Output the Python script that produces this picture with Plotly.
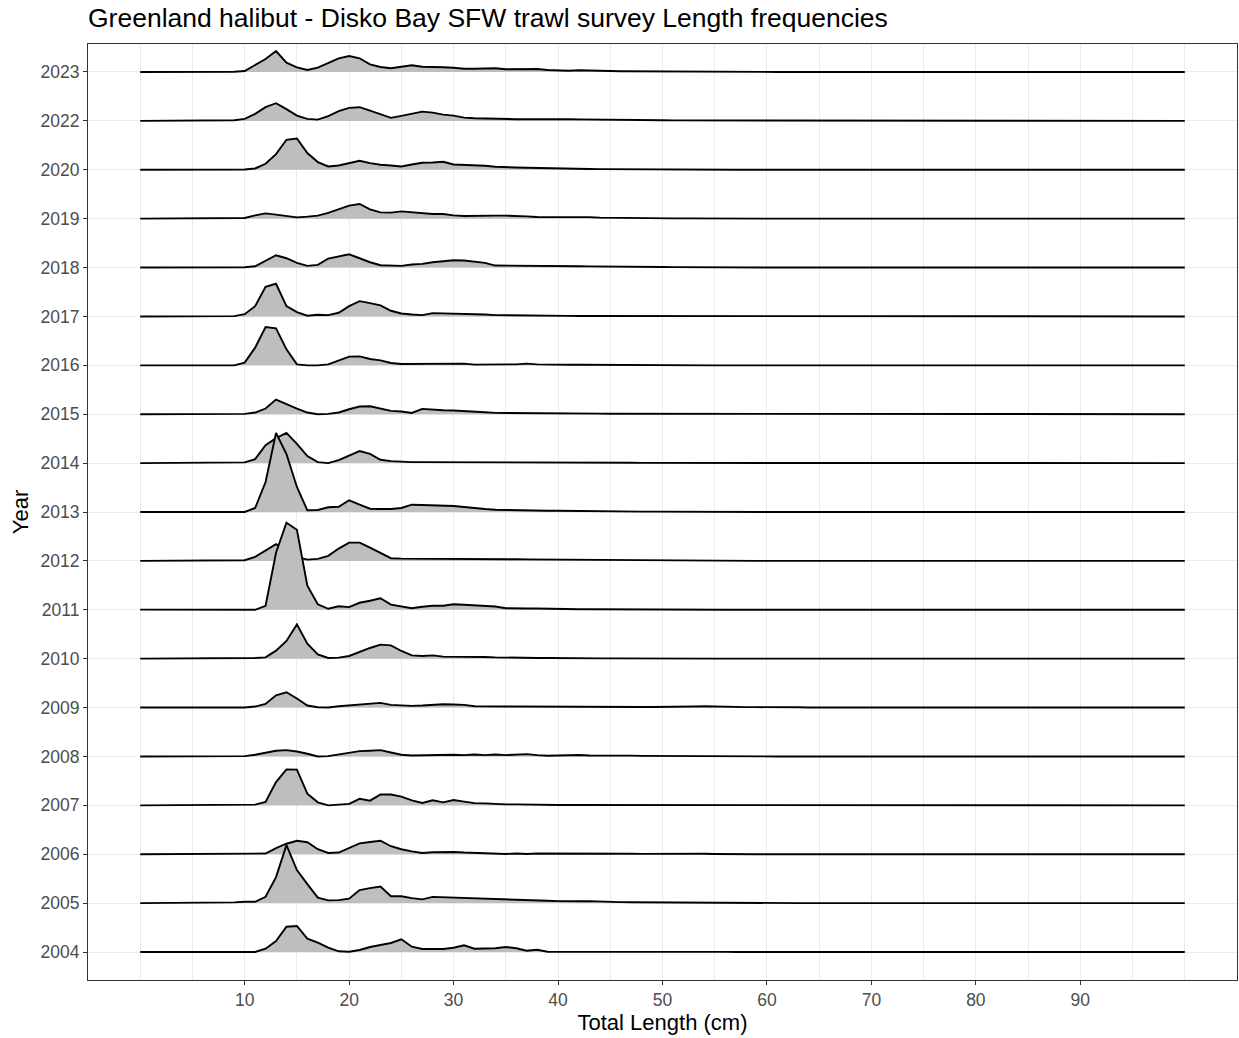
import plotly.graph_objects as go

# Length classes (cm)
LENGTHS = list(range(0, 101))

# Years, bottom to top
YEARS = ["2004", "2005", "2006", "2007", "2008", "2009", "2010", "2011", "2012",
         "2013", "2014", "2015", "2016", "2017", "2018", "2019", "2020", "2022", "2023"]

# Relative length frequencies per year (lengths 0..100 cm)
F2023 = [0, 0, 0, 0, 0, 0, 0, 0, 0, 0.3,
         1, 7, 13, 21, 9.3, 4.7, 2, 4.3, 8.7, 13.7,
         16, 13.7, 7.7, 5, 3.7, 5.3, 6.7, 5.3, 4.7, 4.7,
         4.3, 3.3, 3.3, 3.3, 3.7, 2.7, 3, 2.7, 3, 2,
         1.3, 1.3, 1.7, 1.7, 1.3, 1, 0.8, 0.7, 0.7, 0.6,
         0.5, 0.4, 0.4, 0.3, 0.3, 0.3, 0.2, 0.2, 0.1, 0,
         0, 0, 0, 0, 0, 0, 0, 0, 0, 0,
         0, 0, 0, 0, 0, 0, 0, 0, 0, 0,
         0, 0, 0, 0, 0, 0, 0, 0, 0, 0,
         0, 0, 0, 0, 0, 0, 0, 0, 0, 0, 0]
F2022 = [0, 0, 0, 0, 0, 0, 0, 0, 0, 0.7,
         2, 7, 13.7, 17.7, 11.7, 5.3, 2, 1.3, 4.7, 9.7,
         13, 13.7, 10.3, 6.3, 3, 5, 7, 9.3, 8.3, 6.3,
         5.3, 3.3, 2.7, 2.3, 2, 2, 1.7, 1.7, 1.7, 2,
         2.3, 1.8, 1.5, 1.3, 1.2, 1, 0.9, 0.8, 0.7, 0.7,
         0.6, 0.5, 0.5, 0.4, 0.3, 0.3, 0.2, 0.2, 0.1, 0,
         0, 0, 0, 0, 0, 0, 0, 0, 0, 0,
         0, 0, 0, 0, 0, 0, 0, 0, 0, 0,
         0, 0, 0, 0, 0, 0, 0, 0, 0, 0,
         0, 0, 0, 0, 0, 0, 0, 0, 0, 0, 0]
F2020 = [0, 0, 0, 0, 0, 0, 0, 0, 0, 0,
         0.3, 1.3, 6, 15.7, 30, 31.3, 16.7, 7.7, 3.3, 4.3,
         6.3, 9, 6.7, 5, 4.3, 3.3, 5.3, 7, 7.3, 8,
         5.3, 5, 4, 4, 3, 2.3, 2.3, 2, 1.7, 1.3,
         1, 0.9, 0.8, 0.7, 0.6, 0.5, 0.5, 0.4, 0.3, 0.3,
         0.2, 0.2, 0.1, 0, 0, 0, 0, 0, 0, 0,
         0, 0, 0, 0, 0, 0, 0, 0, 0, 0,
         0, 0, 0, 0, 0, 0, 0, 0, 0, 0,
         0, 0, 0, 0, 0, 0, 0, 0, 0, 0,
         0, 0, 0, 0, 0, 0, 0, 0, 0, 0, 0]
F2019 = [0, 0, 0, 0, 0, 0, 0, 0, 0, 0,
         0.7, 3.3, 5.3, 4, 2.7, 1.3, 2, 3, 5.7, 9,
         13, 14.7, 9.3, 6.3, 6, 7.3, 6.3, 5, 4.7, 4.7,
         3.3, 2.7, 3, 2.7, 3, 3, 2.3, 2.3, 1.7, 1.7,
         2, 1.5, 1.3, 1.5, 1, 0.8, 0.8, 0.6, 0.5, 0.5,
         0.4, 0.3, 0.3, 0.2, 0.2, 0.1, 0, 0, 0, 0,
         0, 0, 0, 0, 0, 0, 0, 0, 0, 0,
         0, 0, 0, 0, 0, 0, 0, 0, 0, 0,
         0, 0, 0, 0, 0, 0, 0, 0, 0, 0,
         0, 0, 0, 0, 0, 0, 0, 0, 0, 0, 0]
F2018 = [0, 0, 0, 0, 0, 0, 0, 0, 0, 0,
         0.3, 1.3, 6.7, 12.3, 9.3, 4.7, 1.7, 2.7, 9, 11,
         13.3, 9.3, 5.3, 2.3, 1.7, 1.7, 3, 3.7, 5.3, 6.3,
         7.3, 7, 6, 4.7, 2, 2, 2, 2, 2, 2,
         1.7, 1.5, 1.3, 1.2, 1, 0.9, 0.8, 0.7, 0.6, 0.5,
         0.5, 0.4, 0.3, 0.3, 0.2, 0.2, 0.1, 0, 0, 0,
         0, 0, 0, 0, 0, 0, 0, 0, 0, 0,
         0, 0, 0, 0, 0, 0, 0, 0, 0, 0,
         0, 0, 0, 0, 0, 0, 0, 0, 0, 0,
         0, 0, 0, 0, 0, 0, 0, 0, 0, 0, 0]
F2017 = [0, 0, 0, 0, 0, 0, 0, 0, 0, 0.3,
         2.3, 10.3, 29.7, 32.7, 10.3, 4.3, 0.7, 1.7, 1.3, 3.7,
         10.3, 15.3, 13.3, 11, 5.7, 3, 2, 1.3, 3.3, 3,
         3.3, 3, 2.7, 2, 1.3, 1.3, 1, 1, 0.7, 0.7,
         0.7, 0.6, 0.5, 0.5, 0.4, 0.4, 0.3, 0.3, 0.2, 0.2,
         0.1, 0, 0, 0, 0, 0, 0, 0, 0, 0,
         0, 0, 0, 0, 0, 0, 0, 0, 0, 0,
         0, 0, 0, 0, 0, 0, 0, 0, 0, 0,
         0, 0, 0, 0, 0, 0, 0, 0, 0, 0,
         0, 0, 0, 0, 0, 0, 0, 0, 0, 0, 0]
F2016 = [0, 0, 0, 0, 0, 0, 0, 0, 0, 0,
         2.7, 17.7, 38.3, 37, 16, 1, 0, 0, 1, 5,
         8.7, 9, 6.3, 5, 2.3, 1.3, 1.3, 1.7, 1.3, 1.3,
         1, 1.7, 0.7, 1, 1.3, 1, 1, 1.7, 1, 0.7,
         0.7, 0.6, 0.6, 0.5, 0.5, 0.4, 0.4, 0.3, 0.3, 0.2,
         0.2, 0.1, 0, 0, 0, 0, 0, 0, 0, 0,
         0, 0, 0, 0, 0, 0, 0, 0, 0, 0,
         0, 0, 0, 0, 0, 0, 0, 0, 0, 0,
         0, 0, 0, 0, 0, 0, 0, 0, 0, 0,
         0, 0, 0, 0, 0, 0, 0, 0, 0, 0, 0]
F2015 = [0, 0, 0, 0, 0, 0, 0, 0, 0, 0,
         0.3, 1.7, 5.7, 14.7, 10, 5.7, 1.7, 0, 0.3, 1.7,
         5, 7.7, 8, 5.7, 3.3, 2.7, 1.3, 5.3, 4.3, 4,
         3.7, 3.3, 2.7, 2, 1.3, 1.3, 1.3, 1.3, 1.3, 1,
         1, 0.9, 0.8, 0.7, 0.6, 0.5, 0.5, 0.4, 0.3, 0.3,
         0.2, 0.2, 0.1, 0, 0, 0, 0, 0, 0, 0,
         0, 0, 0, 0, 0, 0, 0, 0, 0, 0,
         0, 0, 0, 0, 0, 0, 0, 0, 0, 0,
         0, 0, 0, 0, 0, 0, 0, 0, 0, 0,
         0, 0, 0, 0, 0, 0, 0, 0, 0, 0, 0]
F2014 = [0, 0, 0, 0, 0, 0, 0, 0, 0, 0,
         0.7, 4, 18, 25, 30.3, 19.3, 7, 1, 0, 3,
         7.7, 12, 9.3, 3.3, 2, 1.3, 1, 1, 1, 0.9,
         0.9, 1, 1, 0.9, 0.8, 0.8, 0.8, 0.7, 0.7, 0.7,
         0.7, 0.6, 0.5, 0.5, 0.4, 0.4, 0.3, 0.3, 0.2, 0.2,
         0.1, 0, 0, 0, 0, 0, 0, 0, 0, 0,
         0, 0, 0, 0, 0, 0, 0, 0, 0, 0,
         0, 0, 0, 0, 0, 0, 0, 0, 0, 0,
         0, 0, 0, 0, 0, 0, 0, 0, 0, 0,
         0, 0, 0, 0, 0, 0, 0, 0, 0, 0, 0]
F2013 = [0, 0, 0, 0, 0, 0, 0, 0, 0, 0,
         0, 4, 30, 79, 58, 25, 1.7, 2, 4.7, 5.3,
         11.7, 7.3, 3.3, 3, 3, 4, 7.3, 7, 6.7, 6.3,
         6, 5, 3.7, 3, 2.3, 2, 1.7, 2, 1.7, 1.3,
         1.3, 1.1, 1, 0.9, 0.8, 0.7, 0.6, 0.5, 0.4, 0.4,
         0.3, 0.3, 0.2, 0.2, 0.1, 0, 0, 0, 0, 0,
         0, 0, 0, 0, 0, 0, 0, 0, 0, 0,
         0, 0, 0, 0, 0, 0, 0, 0, 0, 0,
         0, 0, 0, 0, 0, 0, 0, 0, 0, 0,
         0, 0, 0, 0, 0, 0, 0, 0, 0, 0, 0]
F2012 = [0, 0, 0, 0, 0, 0, 0, 0, 0, 0.3,
         0.7, 4, 10.7, 16.7, 10, 4, 1.3, 2, 5, 12.3,
         18.3, 18.3, 13.3, 8.3, 2.7, 2.3, 2.3, 2.2, 2.2, 2.1,
         2, 2, 2, 1.9, 1.8, 1.7, 1.6, 1.5, 1.4, 1.3,
         1.2, 1.1, 1, 0.9, 0.8, 0.7, 0.6, 0.6, 0.5, 0.4,
         0.4, 0.3, 0.3, 0.2, 0.2, 0.1, 0, 0, 0, 0,
         0, 0, 0, 0, 0, 0, 0, 0, 0, 0,
         0, 0, 0, 0, 0, 0, 0, 0, 0, 0,
         0, 0, 0, 0, 0, 0, 0, 0, 0, 0,
         0, 0, 0, 0, 0, 0, 0, 0, 0, 0, 0]
F2011 = [0.2, 0.2, 0.2, 0.3, 0.3, 0.2, 0.2, 0.2, 0.2, 0.2,
         0, 0, 4, 57, 87, 80, 24, 5.5, 1, 3.5,
         2.7, 7, 9, 11.5, 5.2, 3.5, 1.5, 3, 4, 4,
         5.5, 5, 4.3, 3.7, 3.3, 1.5, 1.7, 1.3, 1.3, 1,
         0.7, 0.7, 0.6, 0.6, 0.5, 0.5, 0.4, 0.4, 0.3, 0.3,
         0.2, 0.2, 0.1, 0, 0, 0, 0, 0, 0, 0,
         0, 0, 0, 0, 0, 0, 0, 0, 0, 0,
         0, 0, 0, 0, 0, 0, 0, 0, 0, 0,
         0, 0, 0, 0, 0, 0, 0, 0, 0, 0,
         0, 0, 0, 0, 0, 0, 0, 0, 0, 0, 0]
F2010 = [0, 0, 0, 0, 0, 0, 0, 0, 0, 0,
         0, 0.7, 1.3, 8, 17.7, 34.3, 15, 4.3, 0.7, 1,
         2.7, 7, 10.7, 14, 13.3, 7.7, 3.3, 2.7, 3.3, 2,
         2, 2.3, 2, 1.7, 1.3, 1, 1.3, 0.7, 0.7, 0.7,
         0.5, 0.5, 0.4, 0.4, 0.3, 0.3, 0.2, 0.2, 0.1, 0,
         0, 0, 0, 0, 0, 0, 0, 0, 0, 0,
         0, 0, 0, 0, 0, 0, 0, 0, 0, 0,
         0, 0, 0, 0, 0, 0, 0, 0, 0, 0,
         0, 0, 0, 0, 0, 0, 0, 0, 0, 0,
         0, 0, 0, 0, 0, 0, 0, 0, 0, 0, 0]
F2009 = [0, 0, 0, 0, 0, 0, 0, 0, 0, 0,
         0, 1, 3.7, 12.3, 15.3, 9, 2, 0.3, 0, 1.3,
         2.3, 3.3, 4, 4.7, 2.7, 2, 1.7, 2, 2.7, 3.3,
         3, 2.7, 1.3, 1, 1, 1, 1, 0.9, 0.9, 0.8,
         0.8, 0.7, 0.7, 0.6, 0.6, 0.5, 0.5, 0.5, 0.5, 0.5,
         0.5, 0.5, 0.6, 1, 1.3, 0.9, 0.6, 0.5, 0.4, 0.4,
         0.5, 0.6, 0.7, 0.3, 0.1, 0, 0, 0, 0, 0,
         0, 0, 0, 0, 0, 0, 0, 0, 0, 0,
         0, 0, 0, 0, 0, 0, 0, 0, 0, 0,
         0, 0, 0, 0, 0, 0, 0, 0, 0, 0, 0]
F2008 = [0, 0, 0, 0, 0, 0, 0, 0, 0, 0,
         0.3, 1.7, 4, 5.7, 6.3, 5, 2.7, 0, 0.3, 2,
         4, 5.3, 5.7, 6.3, 4, 1.7, 1, 1.3, 1.7, 1.3,
         1.7, 1.3, 2, 1.3, 2, 1.3, 1.7, 2.3, 1.3, 0.7,
         1, 1.2, 1.5, 0.9, 1, 0.8, 1, 0.8, 0.6, 0.5,
         0.5, 0.4, 0.4, 0.3, 0.3, 0.2, 0.2, 0.1, 0, 0,
         0, 0, 0, 0, 0, 0, 0, 0, 0, 0,
         0, 0, 0, 0, 0, 0, 0, 0, 0, 0,
         0, 0, 0, 0, 0, 0, 0, 0, 0, 0,
         0, 0, 0, 0, 0, 0, 0, 0, 0, 0, 0]
F2007 = [0, 0, 0, 0, 0, 0, 0, 0, 0, 0,
         0, 0.7, 3.3, 23.3, 36, 35.7, 11.7, 3, 0, 1,
         1.5, 6.5, 4.7, 10.8, 10.8, 8.7, 5, 2.3, 5, 3,
         5.3, 3.7, 2.2, 2, 1.3, 1, 1, 0.7, 0.3, 0.3,
         0.3, 0.3, 0.3, 0.2, 0.2, 0.2, 0.1, 0, 0, 0,
         0, 0, 0, 0, 0, 0, 0, 0, 0, 0,
         0, 0, 0, 0, 0, 0, 0, 0, 0, 0,
         0, 0, 0, 0, 0, 0, 0, 0, 0, 0,
         0, 0, 0, 0, 0, 0, 0, 0, 0, 0,
         0, 0, 0, 0, 0, 0, 0, 0, 0, 0, 0]
F2006 = [0, 0, 0, 0, 0, 0, 0, 0, 0, 0,
         0, 0.3, 0.7, 6, 10.5, 13.5, 12, 5, 1.3, 1.7,
         6, 10.8, 12.2, 13.5, 8, 5, 2.8, 1.3, 2, 2.3,
         2.3, 1.7, 1.3, 1, 0.7, 0.3, 0.7, 0.3, 0.7, 0.7,
         1, 0.7, 1.2, 0.7, 0.6, 0.5, 0.7, 0.5, 0.4, 0.5,
         0.6, 0.4, 0.3, 0.4, 0.5, 0.3, 0.4, 0.2, 0.1, 0,
         0, 0, 0, 0, 0, 0, 0, 0, 0, 0,
         0, 0, 0, 0, 0, 0, 0, 0, 0, 0,
         0, 0, 0, 0, 0, 0, 0, 0, 0, 0,
         0, 0, 0, 0, 0, 0, 0, 0, 0, 0, 0]
F2005 = [0, 0, 0, 0, 0, 0, 0, 0, 0.7, 0.7,
         1.3, 1.3, 6.3, 26, 58, 33, 19, 5.5, 2.7, 3,
         4.5, 13, 15, 16.5, 6.8, 6.8, 5, 3.8, 6.2, 5.8,
         5.3, 4.8, 4.7, 4.3, 4, 3.7, 3.3, 3, 2.7, 2.3,
         2, 1.7, 1.8, 2, 1.5, 1.2, 1, 0.9, 0.8, 0.7,
         0.6, 0.5, 0.5, 0.4, 0.3, 0.3, 0.2, 0.2, 0.1, 0,
         0, 0, 0, 0, 0, 0, 0, 0, 0, 0,
         0, 0, 0, 0, 0, 0, 0, 0, 0, 0,
         0, 0, 0, 0, 0, 0, 0, 0, 0, 0,
         0, 0, 0, 0, 0, 0, 0, 0, 0, 0, 0]
F2004 = [0, 0, 0, 0, 0, 0, 0, 0, 0, 0,
         0, 0, 3.3, 11, 25.3, 26, 13.3, 9.3, 4.3, 0.7,
         0.3, 2, 5, 6.7, 9, 12.7, 5.3, 3, 2.7, 3,
         4.3, 6.7, 3.3, 3.7, 3.7, 5, 3.7, 1.3, 2.3, 0.3,
         0.3, 0.5, 0.8, 0.6, 0.4, 0.3, 0.3, 0.2, 0.2, 0.2,
         0.2, 0.2, 0.2, 0.3, 0.4, 0.2, 0.1, 0, 0, 0,
         0, 0, 0, 0, 0, 0, 0, 0, 0, 0,
         0, 0, 0, 0, 0, 0, 0, 0, 0, 0,
         0, 0, 0, 0, 0, 0, 0, 0, 0, 0,
         0, 0, 0, 0, 0, 0, 0, 0, 0, 0, 0]

FREQS = {
    "2004": F2004, "2005": F2005, "2006": F2006, "2007": F2007, "2008": F2008,
    "2009": F2009, "2010": F2010, "2011": F2011, "2012": F2012, "2013": F2013,
    "2014": F2014, "2015": F2015, "2016": F2016, "2017": F2017, "2018": F2018,
    "2019": F2019, "2020": F2020, "2022": F2022, "2023": F2023,
}

X_TICKS = [10, 20, 30, 40, 50, 60, 70, 80, 90]
X_MINOR = [0, 5, 15, 25, 35, 45, 55, 65, 75, 85, 95, 100]

TITLE = "Greenland halibut - Disko Bay SFW trawl survey Length frequencies"
X_TITLE = "Total Length (cm)"
Y_TITLE = "Year"

# ridge scaling: frequency units -> category spacing
RIDGE_SCALE = 1 / 48.9
FILL = "#BEBEBE"
FONT = "Liberation Sans, Arial, Helvetica, sans-serif"

for y in YEARS:
    assert len(FREQS[y]) == len(LENGTHS), y

fig = go.Figure()

# Draw from top ridge to bottom so that lower ridges overlay upper ones
for idx in range(len(YEARS) - 1, -1, -1):
    year = YEARS[idx]
    base = idx + 1
    top = [base + v * RIDGE_SCALE for v in FREQS[year]]
    fig.add_trace(go.Scatter(
        x=LENGTHS + LENGTHS[::-1],
        y=top + [base] * len(LENGTHS),
        fill="toself", fillcolor=FILL, mode="lines",
        line=dict(width=0, color=FILL), hoverinfo="skip", showlegend=False,
    ))
    fig.add_trace(go.Scatter(
        x=LENGTHS, y=top, mode="lines",
        line=dict(color="black", width=1.9),
        name=year, showlegend=False,
    ))

fig.update_layout(
    width=1239, height=1038,
    margin=dict(l=88, r=2, t=44, b=58),
    paper_bgcolor="white", plot_bgcolor="white",
    font=dict(family=FONT, color="#4D4D4D", size=17.5),
    title=dict(text=TITLE, x=0, xref="paper", xanchor="left",
               y=1 - 18 / 1038, yref="container", yanchor="middle",
               font=dict(size=26.5, color="black", family=FONT)),
)

fig.update_xaxes(
    range=[-5, 105], tickmode="array", tickvals=X_TICKS,
    ticks="outside", ticklen=4, tickcolor="#333333", tickwidth=1,
    showgrid=True, gridcolor="#EBEBEB", gridwidth=1.1,
    minor=dict(tickvals=X_MINOR, showgrid=True, gridcolor="#EBEBEB",
               gridwidth=0.6, ticks=""),
    showline=True, mirror=True, linecolor="#333333", linewidth=1,
    zeroline=False,
    tickfont=dict(size=17.5, color="#4D4D4D"),
    title=dict(text=X_TITLE, font=dict(size=22, color="black"), standoff=2),
)

fig.update_yaxes(
    range=[1 - 28 / 48.9, len(YEARS) + 28 / 48.9],
    tickmode="array", tickvals=list(range(1, len(YEARS) + 1)), ticktext=YEARS,
    ticks="outside", ticklen=4, tickcolor="#333333", tickwidth=1,
    showgrid=True, gridcolor="#EBEBEB", gridwidth=1.1,
    showline=True, mirror=True, linecolor="#333333", linewidth=1,
    zeroline=False,
    tickfont=dict(size=17.5, color="#4D4D4D"),
    title=dict(text=Y_TITLE, font=dict(size=22, color="black"), standoff=5),
)

fig.write_html(
    "out.html",
    config={"displayModeBar": False},
    post_script="document.body.style.margin='0';document.body.style.overflow='hidden';",
)
